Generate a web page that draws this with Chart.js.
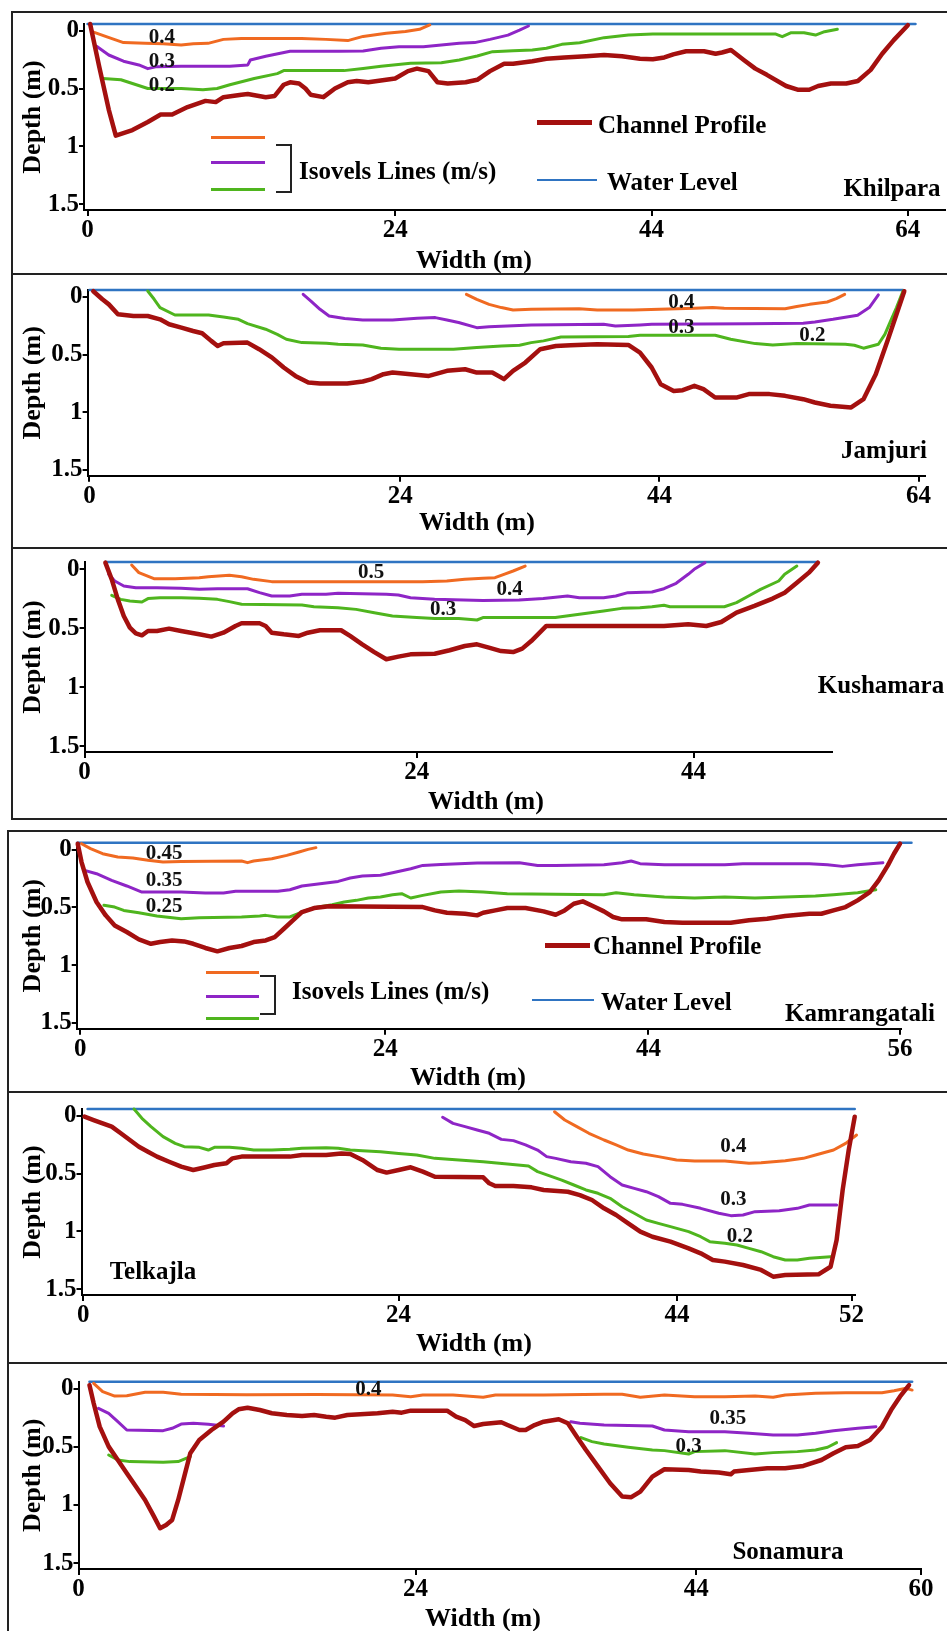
<!DOCTYPE html>
<html>
<head>
<meta charset="utf-8">
<script src="https://cdn.jsdelivr.net/npm/chart.js@4.4.0/dist/chart.umd.min.js"></script>
<style>
  body { margin:0; background:#fff; width:947px; height:1631px; position:relative; overflow:hidden;
         font-family:"Liberation Serif","Times New Roman",serif; font-weight:bold; color:#000; }
  .t { position:absolute; transform:translate(-50%,-50%); white-space:nowrap; line-height:1; font-size:25px; }
  .l { position:absolute; transform:translateY(-50%); white-space:nowrap; line-height:1; font-size:25px; }
  .sw { position:absolute; }
  .box { position:absolute; border-left:2px solid #222; border-top:2px solid #222; }
  .hl { position:absolute; height:2px; background:#222; }
  .br { position:absolute; border:2px solid #222; border-left:none; }
</style>
</head>
<body>
<script>
// kleuren van de lijnen
const RED = '#a4100f', BLUE = '#2f74c2', ORANGE = '#f06a21', PURPLE = '#8e25c6', GREEN = '#4fb51e';
const FONT = '"Liberation Serif", "Times New Roman", serif';
const W = 947;

// diepte-as: labels staan in het origineel iets onder de waterlijn en iets boven de x-as
const depthTicks = [0, 0.5, 1, 1.5];
const depthLabelMin = -0.06, depthLabelMax = 1.55;

// ---------------- Khilpara ----------------
const khilTickAt = [0, 24, 44, 64];
const khilTickText = ['0', '24', '44', '64'];
const khilWater = [[0,0],[64.6,0]];
const khilBed = [[0.2,0],[0.9,0.34],[1.65,0.69],[2.2,0.9],[3.5,0.855],[4.7,0.79],[5.7,0.73],[6.6,0.73],[7.8,0.67],[9.2,0.62],[10.0,0.63],[10.6,0.59],[12.0,0.57],[12.5,0.565],[13.9,0.59],[14.6,0.58],[15.3,0.49],[15.8,0.47],[16.5,0.48],[17.0,0.52],[17.4,0.57],[18.4,0.59],[19.3,0.52],[20.3,0.47],[21.0,0.46],[21.9,0.47],[23.3,0.45],[24.0,0.44],[25.0,0.38],[25.7,0.36],[26.6,0.38],[27.3,0.47],[28.1,0.48],[29.5,0.47],[30.4,0.45],[31.4,0.38],[32.5,0.32],[33.2,0.32],[34.7,0.3],[35.8,0.28],[37.2,0.27],[38.9,0.26],[40.3,0.25],[41.7,0.26],[43.1,0.28],[44.1,0.285],[45.0,0.27],[45.7,0.245],[46.7,0.22],[48.1,0.22],[49.0,0.24],[49.5,0.23],[50.2,0.21],[51.2,0.29],[52.1,0.36],[53.0,0.41],[54.5,0.5],[55.4,0.53],[56.3,0.53],[57.0,0.5],[58.0,0.48],[59.2,0.48],[60.1,0.46],[61.1,0.37],[62.0,0.24],[62.9,0.13],[64.0,0.01]];
const khilIso04 = [[0.3,0.06],[1.4,0.1],[2.8,0.15],[4.5,0.156],[5.9,0.16],[7.3,0.17],[8.25,0.16],[9.4,0.156],[10.6,0.124],[12.0,0.116],[14.4,0.116],[16.7,0.116],[18.6,0.124],[20.3,0.134],[21.5,0.1],[23.3,0.075],[24.8,0.06],[25.9,0.043],[26.7,0.008]];
const khilIso03 = [[0.7,0.18],[1.65,0.25],[2.8,0.3],[4.0,0.33],[4.7,0.36],[5.4,0.344],[7.3,0.34],[9.2,0.34],[11.1,0.34],[12.5,0.33],[12.7,0.29],[13.9,0.26],[15.8,0.22],[19.6,0.22],[21.5,0.218],[22.9,0.196],[24.3,0.183],[26.2,0.183],[27.6,0.17],[29.0,0.156],[30.2,0.15],[31.4,0.124],[32.8,0.09],[33.7,0.05],[34.4,0.016]];
const khilIso02 = [[1.2,0.44],[2.6,0.45],[3.8,0.49],[4.7,0.52],[6.1,0.52],[7.3,0.52],[9.0,0.53],[10.1,0.52],[11.1,0.49],[13.0,0.44],[14.8,0.4],[15.3,0.376],[20.0,0.376],[21.5,0.358],[22.9,0.34],[25.2,0.317],[27.6,0.312],[29.0,0.29],[30.4,0.258],[31.6,0.223],[33.2,0.215],[34.7,0.21],[35.8,0.196],[37.0,0.164],[38.4,0.151],[40.3,0.11],[42.2,0.089],[44.1,0.081],[53.7,0.081],[54.2,0.102],[54.9,0.07],[55.9,0.07],[56.8,0.089],[57.5,0.062],[58.5,0.043]];

// ---------------- Jamjuri ----------------
const jamTickAt = [0, 24, 44, 64];
const jamTickText = ['0', '24', '44', '64'];
const jamWater = [[0,0],[62.8,0]];
const jamBed = [[0.3,0.01],[1.0,0.075],[1.5,0.116],[2.2,0.196],[3.4,0.21],[4.5,0.21],[5.45,0.237],[6.15,0.277],[7.1,0.304],[8.0,0.331],[8.7,0.349],[9.4,0.411],[9.9,0.452],[10.35,0.43],[12.2,0.425],[13.1,0.478],[14.1,0.546],[15.0,0.626],[15.9,0.694],[16.9,0.747],[17.8,0.755],[19.9,0.755],[21.1,0.739],[21.8,0.72],[22.7,0.68],[23.4,0.667],[24.8,0.68],[26.2,0.694],[27.6,0.653],[29.0,0.64],[29.9,0.667],[31.1,0.667],[32.0,0.72],[32.7,0.653],[33.65,0.586],[34.8,0.478],[36.0,0.452],[37.15,0.446],[39.2,0.438],[41.6,0.444],[42.5,0.505],[43.4,0.626],[44.1,0.761],[45.1,0.815],[45.8,0.809],[46.7,0.774],[47.4,0.801],[48.3,0.868],[50.0,0.868],[50.9,0.841],[52.5,0.841],[53.7,0.855],[55.1,0.882],[56.0,0.909],[57.2,0.935],[58.8,0.949],[59.75,0.882],[60.7,0.68],[61.6,0.411],[62.3,0.196],[62.9,0.01]];
const jamIso04 = [[29.1,0.035],[29.9,0.075],[30.85,0.116],[31.8,0.142],[32.7,0.161],[34.1,0.156],[37.8,0.151],[39.2,0.161],[42.0,0.161],[46.7,0.148],[48.1,0.142],[49.0,0.148],[53.7,0.151],[54.6,0.134],[55.6,0.116],[56.95,0.097],[57.65,0.07],[58.3,0.035]];
const jamIso03 = [[16.5,0.035],[17.1,0.089],[17.8,0.156],[18.5,0.21],[19.7,0.231],[21.1,0.242],[23.4,0.242],[25.3,0.228],[26.7,0.223],[27.6,0.242],[28.5,0.263],[29.9,0.304],[30.85,0.296],[34.1,0.282],[39.7,0.277],[40.6,0.29],[42.5,0.282],[43.4,0.277],[50.9,0.272],[55.1,0.269],[56.0,0.258],[57.4,0.237],[59.3,0.204],[60.2,0.142],[60.9,0.04]];
const jamIso02 = [[4.5,0.008],[5.0,0.075],[5.45,0.142],[6.6,0.202],[9.2,0.202],[10.35,0.218],[11.5,0.237],[12.2,0.272],[13.6,0.317],[14.5,0.358],[15.2,0.398],[16.4,0.425],[18.3,0.43],[19.2,0.438],[21.1,0.444],[22.5,0.47],[23.9,0.478],[28.1,0.478],[29.9,0.465],[31.8,0.452],[33.2,0.446],[34.1,0.425],[35.05,0.411],[36.4,0.379],[41.6,0.376],[42.5,0.366],[48.3,0.366],[49.5,0.398],[51.4,0.433],[52.75,0.444],[54.6,0.433],[58.35,0.438],[59.05,0.446],[59.75,0.47],[60.9,0.438],[61.4,0.358],[61.85,0.25],[62.3,0.142],[62.8,0.008]];

// ---------------- Kushamara ----------------
const kushTickAt = [0, 24, 44];
const kushTickText = ['0', '24', '44'];
const kushWater = [[1.5,0],[53.0,0]];
const kushBed = [[1.5,0.005],[1.96,0.137],[2.4,0.295],[2.83,0.426],[3.27,0.518],[3.7,0.563],[4.14,0.579],[4.58,0.545],[5.23,0.545],[6.1,0.526],[6.97,0.545],[8.28,0.571],[9.16,0.589],[10.03,0.558],[10.9,0.505],[11.34,0.484],[12.64,0.484],[13.08,0.505],[13.52,0.558],[14.39,0.571],[15.48,0.584],[16.13,0.558],[17.0,0.539],[18.53,0.539],[19.18,0.584],[20.06,0.65],[20.93,0.711],[21.8,0.768],[22.67,0.747],[23.55,0.729],[25.29,0.724],[26.38,0.697],[27.47,0.663],[28.35,0.65],[29.21,0.676],[30.09,0.703],[30.96,0.711],[31.62,0.684],[32.27,0.624],[33.36,0.505],[41.86,0.505],[43.61,0.492],[44.92,0.505],[46.0,0.474],[47.1,0.4],[48.4,0.347],[49.71,0.289],[50.58,0.242],[51.46,0.163],[52.33,0.084],[52.98,0.005]];
const kushIso05 = [[3.4,0.024],[3.92,0.084],[5.01,0.132],[6.54,0.132],[8.28,0.124],[8.94,0.116],[10.46,0.105],[11.34,0.116],[12.21,0.137],[13.52,0.155],[24.42,0.155],[26.17,0.15],[27.47,0.137],[28.78,0.129],[29.65,0.124],[30.3,0.097],[30.96,0.071],[31.83,0.032]];
const kushIso04 = [[1.74,0.097],[2.18,0.15],[2.83,0.189],[3.7,0.203],[5.23,0.203],[6.97,0.208],[8.28,0.216],[9.59,0.211],[11.77,0.211],[12.64,0.242],[13.52,0.268],[14.82,0.268],[15.7,0.255],[17.44,0.255],[18.31,0.247],[20.06,0.25],[21.8,0.255],[22.67,0.261],[23.55,0.282],[25.29,0.295],[28.78,0.303],[31.39,0.3],[33.14,0.289],[34.89,0.268],[35.75,0.282],[37.5,0.282],[38.38,0.268],[39.25,0.242],[40.99,0.237],[41.86,0.211],[42.74,0.168],[43.61,0.097],[44.04,0.058],[44.83,0.005]];
const kushIso03 = [[1.96,0.263],[2.61,0.295],[3.27,0.308],[4.14,0.316],[4.58,0.289],[5.45,0.282],[6.97,0.282],[8.28,0.287],[9.59,0.295],[10.46,0.313],[11.34,0.334],[15.7,0.339],[16.57,0.353],[18.31,0.361],[19.62,0.374],[20.93,0.4],[22.24,0.426],[23.99,0.439],[25.29,0.447],[27.03,0.447],[28.35,0.458],[28.78,0.439],[34.01,0.439],[35.75,0.413],[37.5,0.387],[38.81,0.366],[40.12,0.361],[40.99,0.353],[41.86,0.342],[42.3,0.353],[46.22,0.353],[47.1,0.321],[47.97,0.268],[48.84,0.216],[50.15,0.15],[50.58,0.097],[51.46,0.032]];

// ---------------- Kamrangatali ----------------
const kamTickAt = [0, 24, 44.7, 64.5];
const kamTickText = ['0', '24', '44', '56'];
const kamWater = [[-0.24,0],[65.4,0]];
const kamBed = [[-0.2,0.008],[0.1,0.156],[0.57,0.317],[1.28,0.478],[2.0,0.586],[2.71,0.667],[3.66,0.72],[4.61,0.78],[5.56,0.815],[6.28,0.801],[7.22,0.788],[8.17,0.796],[8.89,0.815],[9.84,0.849],[10.79,0.876],[11.74,0.849],[12.69,0.833],[13.64,0.801],[14.59,0.788],[15.3,0.761],[16.02,0.694],[16.73,0.626],[17.44,0.559],[18.4,0.527],[19.58,0.513],[26.95,0.519],[27.9,0.546],[28.85,0.565],[30.28,0.573],[31.22,0.586],[31.7,0.565],[32.65,0.546],[33.6,0.527],[35.03,0.527],[36.45,0.554],[37.4,0.581],[38.11,0.546],[38.83,0.492],[39.54,0.473],[40.49,0.519],[41.2,0.554],[41.92,0.599],[42.63,0.618],[44.53,0.618],[45.96,0.64],[47.38,0.645],[51.18,0.645],[52.61,0.626],[54.04,0.613],[55.46,0.591],[57.36,0.573],[58.31,0.573],[59.26,0.546],[60.21,0.519],[61.16,0.465],[62.12,0.398],[62.82,0.304],[63.54,0.183],[64.02,0.089],[64.5,0.008]];
const kamIso045 = [[0.1,0.008],[0.81,0.048],[1.76,0.089],[2.95,0.116],[4.14,0.124],[5.33,0.142],[6.51,0.156],[7.94,0.151],[12.69,0.148],[13.16,0.161],[13.64,0.148],[15.07,0.129],[16.25,0.102],[17.21,0.075],[17.92,0.054],[18.54,0.04]];
const kamIso035 = [[0.34,0.223],[1.28,0.25],[2.47,0.304],[3.66,0.349],[4.85,0.398],[7.94,0.398],[9.84,0.406],[11.27,0.406],[12.22,0.392],[15.54,0.392],[16.49,0.379],[17.44,0.349],[18.87,0.331],[20.29,0.312],[21.24,0.285],[22.2,0.269],[23.62,0.263],[24.57,0.242],[26.0,0.21],[26.95,0.183],[28.37,0.175],[31.23,0.164],[34.55,0.161],[35.98,0.183],[37.4,0.183],[41.2,0.177],[42.63,0.161],[43.34,0.148],[44.05,0.169],[45.96,0.177],[50.71,0.177],[52.13,0.169],[57.36,0.169],[58.79,0.177],[59.98,0.191],[61.16,0.177],[63.15,0.161]];
const kamIso025 = [[1.86,0.505],[2.71,0.519],[3.42,0.546],[4.61,0.565],[6.03,0.591],[7.94,0.613],[9.36,0.605],[12.69,0.599],[14.12,0.591],[14.59,0.586],[15.54,0.599],[16.49,0.599],[17.44,0.559],[18.4,0.524],[19.82,0.5],[20.77,0.478],[21.72,0.465],[22.67,0.446],[23.62,0.438],[24.57,0.419],[25.29,0.411],[26.0,0.446],[26.95,0.425],[28.37,0.398],[29.8,0.39],[31.7,0.398],[33.6,0.411],[41.2,0.419],[42.16,0.403],[43.58,0.419],[45.96,0.438],[48.33,0.446],[50.71,0.438],[53.08,0.446],[55.46,0.438],[57.84,0.43],[59.26,0.419],[61.16,0.403],[62.59,0.379]];

// ---------------- Telkajla ----------------
const telTickAt = [0, 24, 45.2, 58.5];
const telTickText = ['0', '24', '44', '52'];
const telWater = [[0.32,0],[58.74,0]];
const telBed = [[0.09,0.062],[0.78,0.089],[1.47,0.116],[2.16,0.142],[2.85,0.196],[3.54,0.25],[4.23,0.304],[4.92,0.344],[5.61,0.384],[6.53,0.425],[7.45,0.465],[8.37,0.492],[9.29,0.47],[9.98,0.452],[10.9,0.438],[11.36,0.398],[12.05,0.384],[15.73,0.384],[16.65,0.371],[18.49,0.371],[19.64,0.358],[20.33,0.363],[21.25,0.411],[22.4,0.492],[23.09,0.513],[24.01,0.492],[24.93,0.47],[25.85,0.505],[26.77,0.546],[30.45,0.551],[30.91,0.599],[31.37,0.621],[32.75,0.621],[34.13,0.632],[35.05,0.653],[36.89,0.667],[37.81,0.694],[38.73,0.734],[39.65,0.801],[40.57,0.855],[41.49,0.922],[42.41,0.989],[43.33,1.03],[44.71,1.07],[46.09,1.124],[47.01,1.164],[47.93,1.218],[48.85,1.231],[50.23,1.258],[51.61,1.298],[52.53,1.352],[53.45,1.339],[55.98,1.333],[56.9,1.272],[57.36,1.056],[57.82,0.653],[58.28,0.331],[58.74,0.062]];
const telIso04 = [[35.88,0.022],[36.66,0.089],[37.58,0.142],[38.5,0.196],[39.65,0.25],[40.57,0.29],[41.49,0.331],[42.64,0.363],[43.79,0.384],[45.17,0.411],[46.55,0.419],[48.85,0.419],[50.69,0.438],[51.61,0.433],[53.45,0.417],[54.83,0.398],[55.75,0.371],[57.13,0.331],[58.05,0.277],[58.88,0.21]];
const telIso03 = [[27.36,0.067],[28.15,0.116],[29.07,0.142],[29.99,0.169],[30.91,0.196],[31.83,0.245],[32.75,0.255],[33.67,0.29],[34.59,0.331],[35.28,0.384],[35.97,0.398],[37.12,0.425],[38.27,0.438],[39.19,0.465],[40.11,0.546],[41.03,0.613],[41.95,0.64],[42.87,0.667],[43.79,0.707],[44.71,0.761],[45.63,0.769],[47.01,0.801],[48.39,0.841],[49.31,0.86],[50.23,0.855],[51.15,0.828],[52.99,0.82],[54.37,0.801],[55.29,0.774],[57.36,0.774]];
const telIso02 = [[3.86,0],[4.46,0.075],[5.15,0.142],[6.07,0.223],[6.99,0.277],[7.68,0.304],[8.83,0.309],[9.52,0.331],[9.98,0.309],[11.13,0.309],[12.05,0.317],[12.97,0.331],[14.35,0.331],[15.73,0.325],[16.65,0.317],[18.49,0.312],[19.41,0.317],[20.33,0.331],[21.25,0.336],[22.63,0.344],[24.01,0.358],[25.39,0.371],[26.77,0.398],[28.61,0.411],[30.45,0.425],[32.29,0.444],[33.9,0.46],[34.59,0.505],[35.51,0.54],[36.43,0.573],[37.35,0.613],[38.27,0.653],[39.19,0.68],[40.11,0.72],[41.03,0.788],[41.95,0.841],[42.87,0.895],[43.79,0.922],[44.71,0.949],[46.09,0.989],[47.01,1.03],[47.7,1.07],[48.85,1.083],[49.77,1.097],[50.69,1.124],[51.61,1.151],[52.53,1.191],[53.45,1.218],[54.37,1.218],[55.29,1.204],[56.9,1.191]];

// ---------------- Sonamura ----------------
const sonTickAt = [0, 24, 44, 60];
const sonTickText = ['0', '24', '44', '60'];
const sonWater = [[0.78,0],[59.37,0]];
const sonBed = [[0.78,0.027],[1.08,0.173],[1.51,0.36],[2.15,0.52],[2.8,0.627],[3.44,0.733],[4.09,0.84],[4.74,0.947],[5.38,1.08],[5.81,1.173],[6.24,1.147],[6.67,1.107],[7.1,0.947],[7.53,0.76],[7.96,0.573],[8.6,0.467],[9.47,0.387],[10.33,0.32],[10.97,0.253],[11.4,0.221],[12.04,0.208],[12.91,0.227],[13.77,0.253],[14.84,0.267],[15.92,0.275],[16.78,0.267],[17.64,0.28],[18.28,0.288],[19.15,0.267],[21.3,0.253],[22.37,0.24],[23.02,0.248],[23.66,0.232],[26.25,0.232],[26.89,0.28],[27.54,0.307],[28.18,0.355],[28.82,0.339],[30.11,0.325],[30.55,0.347],[31.4,0.387],[31.84,0.387],[32.48,0.347],[33.13,0.32],[34.2,0.301],[34.85,0.333],[35.49,0.44],[36.14,0.547],[37.0,0.68],[37.86,0.813],[38.72,0.92],[39.37,0.925],[40.01,0.88],[40.87,0.76],[41.73,0.701],[43.45,0.707],[44.31,0.72],[45.6,0.728],[46.46,0.741],[46.68,0.72],[47.76,0.707],[49.05,0.693],[50.33,0.693],[51.62,0.675],[52.91,0.627],[53.77,0.573],[54.64,0.525],[55.5,0.515],[56.36,0.467],[57.22,0.36],[57.87,0.227],[58.5,0.12],[59.15,0.027]];
const sonIso04 = [[1.08,0.013],[1.72,0.08],[2.58,0.115],[3.44,0.112],[4.74,0.085],[6.03,0.085],[7.31,0.101],[12.0,0.105],[17.0,0.103],[22.37,0.107],[23.66,0.12],[24.52,0.107],[26.67,0.107],[28.82,0.125],[29.69,0.107],[33.13,0.107],[37.43,0.101],[38.72,0.101],[40.01,0.125],[41.73,0.107],[43.88,0.12],[46.03,0.12],[48.18,0.115],[49.47,0.125],[50.33,0.107],[52.49,0.093],[54.64,0.088],[57.22,0.088],[58.08,0.072],[58.94,0.053],[59.37,0.067]];
const sonIso035a = [[1.42,0.213],[2.15,0.253],[2.8,0.32],[3.44,0.387],[6.03,0.392],[6.67,0.373],[7.31,0.339],[8.18,0.333],[9.25,0.341],[10.33,0.355]];
const sonIso035b = [[35.06,0.32],[35.71,0.333],[37.43,0.347],[40.87,0.355],[41.73,0.387],[43.45,0.4],[46.03,0.4],[47.76,0.413],[49.47,0.427],[51.2,0.427],[52.49,0.413],[53.77,0.392],[55.5,0.373],[56.79,0.36]];
const sonIso03a = [[2.15,0.587],[2.8,0.627],[3.66,0.64],[6.03,0.645],[7.1,0.64],[7.96,0.6]];
const sonIso03b = [[35.79,0.448],[36.57,0.48],[37.43,0.499],[39.15,0.525],[40.87,0.547],[41.73,0.552],[43.45,0.579],[43.88,0.56],[46.03,0.552],[48.18,0.579],[49.47,0.568],[51.2,0.56],[52.49,0.547],[53.35,0.525],[53.99,0.488]];

// ---------------- helpers ----------------
function lijn(pts, color, w) {
  return { data: pts.map(p => ({x: p[0], y: p[1]})), borderColor: color, borderWidth: w,
           pointRadius: 0, tension: 0, clip: false, fill: false,
           borderJoinStyle: 'round', borderCapStyle: 'round' };
}

// tekst van de isovels bij de lijnen
const isoLabelPlugin = {
  id: 'isoLabels',
  afterDatasetsDraw(chart, args, opts) {
    const ctx = chart.ctx, x = chart.scales.x, y = chart.scales.y;
    ctx.save();
    ctx.font = 'bold 21px ' + FONT;
    ctx.fillStyle = '#111';
    ctx.textAlign = 'center';
    ctx.textBaseline = 'middle';
    (opts.items || []).forEach(it => ctx.fillText(it.t, x.getPixelForValue(it.x), y.getPixelForValue(it.d)));
    ctx.restore();
  }
};

function maakPaneel(p) {
  const cv = document.createElement('canvas');
  const h = p.bottom - p.top;
  cv.width = W; cv.height = h;
  cv.style.cssText = 'position:absolute;left:0;top:' + p.top + 'px;width:' + W + 'px;height:' + h + 'px';
  document.body.appendChild(cv);
  const tickFont = { family: FONT, size: 25, weight: 'bold', lineHeight: 1 };
  return new Chart(cv, {
    type: 'line',
    data: { datasets: p.lines },
    options: {
      responsive: false, animation: false, devicePixelRatio: 1,
      layout: { padding: { top: p.water - p.top, right: W - p.right, left: 0, bottom: 0 } },
      plugins: { legend: { display: false }, tooltip: { enabled: false }, isoLabels: { items: p.labels } },
      scales: {
        x: {
          type: 'linear', min: p.xMin, max: p.xMax,
          afterBuildTicks: s => { s.ticks = p.tickAt.map(v => ({ value: v })); },
          afterFit: s => { s.height = p.bottom - p.axis; s.paddingLeft = 0; s.paddingRight = 0; },
          ticks: { autoSkip: false, maxRotation: 0, minRotation: 0, padding: 2, color: '#000', font: tickFont,
                   callback: (v, i) => p.tickText[i] },
          grid: { drawOnChartArea: false, drawTicks: true, tickLength: 6, color: '#000', lineWidth: 2 },
          border: { display: true, color: '#000', width: 2 }
        },
        // diepte voor de lijnen (0 = waterlijn, 1.5 = x-as)
        y: { type: 'linear', reverse: true, min: 0, max: 1.5, display: false },
        // zichtbare diepte-as met de labels zoals in het origineel
        yl: {
          type: 'linear', position: 'left', reverse: true, min: depthLabelMin, max: depthLabelMax,
          afterBuildTicks: s => { s.ticks = depthTicks.map(v => ({ value: v })); },
          afterFit: s => { s.width = p.left; s.paddingTop = 0; s.paddingBottom = 0; },
          ticks: { autoSkip: false, padding: 0, color: '#000', font: tickFont, callback: v => String(v) },
          grid: { drawOnChartArea: false, drawTicks: true, tickLength: 5, color: '#000', lineWidth: 2 },
          border: { display: true, color: '#000', width: 2 },
          title: { display: true, text: 'Depth (m)', color: '#000', padding: { top: 20, bottom: 0 },
                   font: { family: FONT, size: 26, weight: 'bold', lineHeight: 1 } }
        }
      }
    },
    plugins: [isoLabelPlugin]
  });
}

// ---------------- panelen ----------------
maakPaneel({ top: 0, bottom: 274, water: 24, axis: 210, left: 84, right: 945, xMin: -0.28, xMax: 66.9,
  tickAt: khilTickAt, tickText: khilTickText,
  lines: [lijn(khilBed, RED, 4.5), lijn(khilIso04, ORANGE, 3), lijn(khilIso03, PURPLE, 3), lijn(khilIso02, GREEN, 3), lijn(khilWater, BLUE, 2.5)],
  labels: [{t:'0.4', x:5.8, d:0.11}, {t:'0.3', x:5.8, d:0.3}, {t:'0.2', x:5.8, d:0.5}] });

maakPaneel({ top: 274, bottom: 548, water: 290, axis: 475.7, left: 87.6, right: 925, xMin: -0.14, xMax: 64.5,
  tickAt: jamTickAt, tickText: jamTickText,
  lines: [lijn(jamBed, RED, 4.5), lijn(jamIso04, ORANGE, 3), lijn(jamIso03, PURPLE, 3), lijn(jamIso02, GREEN, 3), lijn(jamWater, BLUE, 2.5)],
  labels: [{t:'0.4', x:45.7, d:0.1}, {t:'0.3', x:45.7, d:0.3}, {t:'0.2', x:55.8, d:0.366}] });

maakPaneel({ top: 548, bottom: 818, water: 562, axis: 752, left: 84.6, right: 832, xMin: 0, xMax: 54,
  tickAt: kushTickAt, tickText: kushTickText,
  lines: [lijn(kushBed, RED, 4.5), lijn(kushIso05, ORANGE, 3), lijn(kushIso04, PURPLE, 3), lijn(kushIso03, GREEN, 3), lijn(kushWater, BLUE, 2.5)],
  labels: [{t:'0.5', x:20.7, d:0.084}, {t:'0.4', x:30.7, d:0.216}, {t:'0.3', x:25.9, d:0.374}] });

maakPaneel({ top: 830, bottom: 1092, water: 842.7, axis: 1028.7, left: 76.7, right: 900.7, xMin: -0.28, xMax: 64.55,
  tickAt: kamTickAt, tickText: kamTickText,
  lines: [lijn(kamBed, RED, 4.5), lijn(kamIso045, ORANGE, 3), lijn(kamIso035, PURPLE, 3), lijn(kamIso025, GREEN, 3), lijn(kamWater, BLUE, 2.5)],
  labels: [{t:'0.45', x:6.6, d:0.089}, {t:'0.35', x:6.6, d:0.304}, {t:'0.25', x:6.6, d:0.519}] });

maakPaneel({ top: 1092, bottom: 1363, water: 1109, axis: 1295, left: 81.5, right: 855, xMin: -0.14, xMax: 58.76,
  tickAt: telTickAt, tickText: telTickText,
  lines: [lijn(telBed, RED, 4.5), lijn(telIso04, ORANGE, 3), lijn(telIso03, PURPLE, 3), lijn(telIso02, GREEN, 3), lijn(telWater, BLUE, 2.5)],
  labels: [{t:'0.4', x:49.5, d:0.304}, {t:'0.3', x:49.5, d:0.734}, {t:'0.2', x:50.0, d:1.03}] });

maakPaneel({ top: 1363, bottom: 1631, water: 1381.7, axis: 1569, left: 78.5, right: 921, xMin: 0, xMax: 60,
  tickAt: sonTickAt, tickText: sonTickText,
  lines: [lijn(sonBed, RED, 4.5), lijn(sonIso04, ORANGE, 3), lijn(sonIso035a, PURPLE, 3), lijn(sonIso035b, PURPLE, 3),
          lijn(sonIso03a, GREEN, 3), lijn(sonIso03b, GREEN, 3), lijn(sonWater, BLUE, 2.5)],
  labels: [{t:'0.4', x:20.65, d:0.067}, {t:'0.35', x:46.25, d:0.293}, {t:'0.3', x:43.45, d:0.52}] });

// ---------------- kaders, legenda en teksten ----------------
function el(cls, css, text) {
  const d = document.createElement('div');
  d.className = cls;
  d.style.cssText = css;
  if (text) d.textContent = text;
  document.body.appendChild(d);
}
function tekst(s, x, y, size) { el('t', 'left:' + x + 'px;top:' + y + 'px;font-size:' + (size || 25) + 'px', s); }
function links(s, x, y) { el('l', 'left:' + x + 'px;top:' + y + 'px', s); }
function streep(x, yc, w, h, c) { el('sw', 'left:' + x + 'px;top:' + (yc - h / 2) + 'px;width:' + w + 'px;height:' + h + 'px;background:' + c); }

// kaders
el('box', 'left:11px;top:11px;width:960px;height:805px;border-bottom:2px solid #222');
el('hl', 'left:11px;top:273px;width:940px');
el('hl', 'left:11px;top:547px;width:940px');
el('box', 'left:7px;top:830px;width:960px;height:820px');
el('hl', 'left:7px;top:1091px;width:940px');
el('hl', 'left:7px;top:1362px;width:940px');

// as-titels
[[474,260],[477,522],[486,801],[468,1077],[474,1343],[483,1618]].forEach(p => tekst('Width (m)', p[0], p[1], 26));

// namen van de locaties
tekst('Khilpara', 892, 187);
tekst('Jamjuri', 884, 449);
tekst('Kushamara', 881, 684);
tekst('Kamrangatali', 860, 1012);
tekst('Telkajla', 153, 1270);
tekst('Sonamura', 788, 1550);

// legenda Khilpara
streep(537, 122, 55, 5, RED);   links('Channel Profile', 598, 124);
streep(211, 137, 54, 3, ORANGE);
streep(211, 162, 54, 3, PURPLE);
streep(211, 189, 54, 3, GREEN);
el('br', 'left:276px;top:144px;width:14px;height:45px');
links('Isovels Lines (m/s)', 299, 170);
streep(537, 180, 60, 2.5, BLUE); links('Water Level', 607, 181);

// legenda Kamrangatali
streep(545, 945, 45, 5, RED);   links('Channel Profile', 593, 945);
streep(206, 972, 53, 3, ORANGE);
streep(206, 996, 53, 3, PURPLE);
streep(206, 1018, 53, 3, GREEN);
el('br', 'left:260px;top:975px;width:14px;height:36px');
links('Isovels Lines (m/s)', 292, 990);
streep(532, 1000, 62, 2.5, BLUE); links('Water Level', 601, 1001);
</script>
</body>
</html>
